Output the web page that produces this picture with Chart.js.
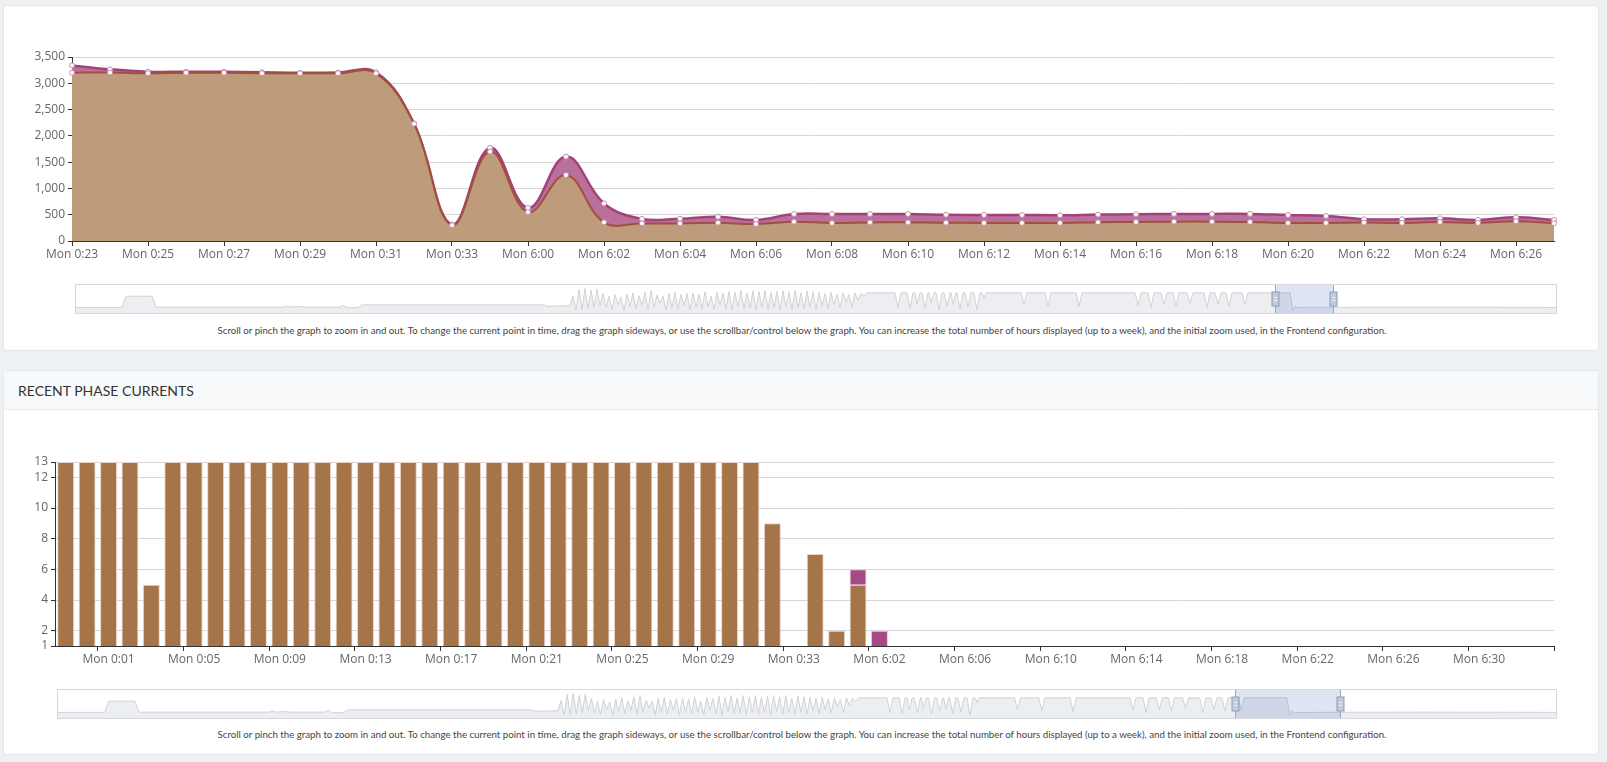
<!DOCTYPE html>
<html>
<head>
<meta charset="utf-8">
<script src="https://cdn.jsdelivr.net/npm/chart.js@4.4.0/dist/chart.umd.min.js"></script>
<style>
  html, body { margin: 0; padding: 0; width: 1607px; height: 762px; overflow: hidden; background: #eef1f3; font-family: Lato, sans-serif; }
  .card { position: absolute; left: 3px; width: 1596px; background: #fff; border: 1px solid #e2e6e9; border-radius: 4px; box-sizing: border-box; }
  .head { position: absolute; left: 4px; top: 371px; width: 1594px; height: 39px; background: #f8f9fa; border-bottom: 1px solid #e7eaec; box-sizing: border-box;
          font: 14px Lato, sans-serif; color: #333; line-height: 39px; padding-left: 14px; }
  canvas { position: absolute; }
  .nav { position: absolute; border: 1px solid #d5d9de; box-sizing: border-box; }
  .nav canvas { left: 0; top: 0; }
  .note { position: absolute; left: 3px; width: 1598px; text-align: center; font: 9.7px Lato, sans-serif; color: #444; line-height: 12px; }
</style>
</head>
<body>
<div class="card" style="top:5px;height:346px"></div>
<div class="card" style="top:370px;height:385px"></div>
<div class="head">RECENT PHASE CURRENTS</div>

<canvas id="powerChart" width="1570" height="225" style="left:0;top:45px"></canvas>
<div class="nav" style="left:75px;top:284px;width:1482px;height:30px"><canvas id="powerNav" width="1480" height="28"></canvas></div>
<div class="note" style="top:324px">Scroll or pinch the graph to zoom in and out. To change the current point in time, drag the graph sideways, or use the scrollbar/control below the graph. You can increase the total number of hours displayed (up to a week), and the initial zoom used, in the Frontend configuration.</div>

<canvas id="phaseChart" width="1570" height="230" style="left:0;top:440px"></canvas>
<div class="nav" style="left:57px;top:689px;width:1500px;height:30px"><canvas id="phaseNav" width="1498" height="28"></canvas></div>
<div class="note" style="top:728px">Scroll or pinch the graph to zoom in and out. To change the current point in time, drag the graph sideways, or use the scrollbar/control below the graph. You can increase the total number of hours displayed (up to a week), and the initial zoom used, in the Frontend configuration.</div>

<script>
// power graph (W), one point per minute, gap between 0:34 and 6:00 left out
const powerTimes = [
  'Mon 0:23', 'Mon 0:24', 'Mon 0:25', 'Mon 0:26', 'Mon 0:27', 'Mon 0:28', 'Mon 0:29', 'Mon 0:30',
  'Mon 0:31', 'Mon 0:32', 'Mon 0:33', 'Mon 0:34',
  'Mon 6:00', 'Mon 6:01', 'Mon 6:02', 'Mon 6:03', 'Mon 6:04', 'Mon 6:05', 'Mon 6:06', 'Mon 6:07',
  'Mon 6:08', 'Mon 6:09', 'Mon 6:10', 'Mon 6:11', 'Mon 6:12', 'Mon 6:13', 'Mon 6:14', 'Mon 6:15',
  'Mon 6:16', 'Mon 6:17', 'Mon 6:18', 'Mon 6:19', 'Mon 6:20', 'Mon 6:21', 'Mon 6:22', 'Mon 6:23',
  'Mon 6:24', 'Mon 6:25', 'Mon 6:26', 'Mon 6:27'
];
const powerTotal = [
  3340, 3265, 3220, 3220, 3220, 3210, 3200, 3205, 3210, 2235, 315, 1770,
  630, 1605, 715, 420, 425, 460, 400, 513, 513, 513, 513, 500, 495, 495,
  490, 502, 508, 515, 515, 515, 495, 476, 413, 413, 432, 400, 451, 400
];
const powerGrid = [
  3200, 3205, 3190, 3200, 3200, 3190, 3190, 3190, 3190, 2230, 300, 1700,
  550, 1255, 355, 335, 335, 348, 323, 367, 342, 354, 354, 348, 343, 343,
  343, 356, 362, 368, 368, 362, 343, 343, 350, 343, 362, 343, 375, 337
];

// phase currents (A)
const phaseTimes = [
  'Sun 23:59', 'Mon 0:00', 'Mon 0:01', 'Mon 0:02', 'Mon 0:03', 'Mon 0:04', 'Mon 0:05', 'Mon 0:06',
  'Mon 0:07', 'Mon 0:08', 'Mon 0:09', 'Mon 0:10', 'Mon 0:11', 'Mon 0:12', 'Mon 0:13', 'Mon 0:14',
  'Mon 0:15', 'Mon 0:16', 'Mon 0:17', 'Mon 0:18', 'Mon 0:19', 'Mon 0:20', 'Mon 0:21', 'Mon 0:22',
  'Mon 0:23', 'Mon 0:24', 'Mon 0:25', 'Mon 0:26', 'Mon 0:27', 'Mon 0:28', 'Mon 0:29', 'Mon 0:30',
  'Mon 0:31', 'Mon 0:32', 'Mon 0:33', 'Mon 0:34',
  'Mon 6:00', 'Mon 6:01', 'Mon 6:02', 'Mon 6:03', 'Mon 6:04', 'Mon 6:05', 'Mon 6:06', 'Mon 6:07',
  'Mon 6:08', 'Mon 6:09', 'Mon 6:10', 'Mon 6:11', 'Mon 6:12', 'Mon 6:13', 'Mon 6:14', 'Mon 6:15',
  'Mon 6:16', 'Mon 6:17', 'Mon 6:18', 'Mon 6:19', 'Mon 6:20', 'Mon 6:21', 'Mon 6:22', 'Mon 6:23',
  'Mon 6:24', 'Mon 6:25', 'Mon 6:26', 'Mon 6:27', 'Mon 6:28', 'Mon 6:29', 'Mon 6:30', 'Mon 6:31',
  'Mon 6:32', 'Mon 6:33'
];
const phaseL1 = [
  13, 13, 13, 13, 5, 13, 13, 13, 13, 13, 13, 13, 13, 13, 13, 13, 13, 13,
  13, 13, 13, 13, 13, 13, 13, 13, 13, 13, 13, 13, 13, 13, 13, 9, null, 7,
  2, 5, null, null, null, null, null, null, null, null, null, null, null, null, null, null,
  null, null, null, null, null, null, null, null, null, null, null, null, null, null, null, null,
  null, null
];
const phaseL2 = [
  null, null, null, null, null, null, null, null, null, null, null, null, null, null, null, null, null, null,
  null, null, null, null, null, null, null, null, null, null, null, null, null, null, null, null, null, null,
  null, 1, 2, null, null, null, null, null, null, null, null, null, null, null, null, null,
  null, null, null, null, null, null, null, null, null, null, null, null, null, null, null, null,
  null, null
];
const phaseTicks = [1, 2, 4, 6, 8, 10, 12, 13];

// navigator overview: [minute, % of navigator height]
const navPoints = [
  [0, 20], [46, 20], [50, 60], [76, 60], [80, 21], [209, 21], [212, 25], [215, 21], [226, 23], [229, 21],
  [264, 21], [267, 28], [271, 19], [282, 19], [286, 29], [468, 29], [471, 24], [494, 26],
  [497, 62], [500, 10], [503, 85], [506, 12], [509, 88], [512, 15], [515, 82], [518, 20], [521, 86], [524, 25],
  [527, 70], [530, 18], [533, 60], [536, 12], [539, 66], [542, 30], [545, 58], [548, 10], [551, 68], [554, 22],
  [557, 72], [560, 15], [563, 62], [566, 28], [569, 75], [572, 12], [575, 80], [578, 20], [581, 64], [584, 35],
  [587, 60], [590, 10], [593, 70], [596, 18], [599, 74], [602, 14], [605, 66], [608, 26], [611, 70], [614, 10],
  [617, 72], [620, 20], [623, 68], [626, 15], [629, 76], [632, 22], [635, 60], [638, 12], [641, 74], [644, 28],
  [647, 70], [650, 14], [653, 78], [656, 10], [659, 74], [662, 22], [665, 80], [668, 15], [671, 72], [674, 18],
  [677, 80], [680, 12], [683, 76], [686, 20], [689, 80], [692, 14], [695, 74], [698, 18], [701, 78], [704, 10],
  [707, 80], [710, 22], [713, 76], [716, 12], [719, 80], [722, 18], [725, 72], [728, 14], [731, 78], [734, 20],
  [737, 76], [740, 12], [743, 74], [746, 25], [749, 70], [752, 15], [755, 74], [758, 30], [761, 68], [764, 18],
  [767, 72], [770, 40], [773, 66], [776, 20], [779, 72], [782, 45], [785, 70], [788, 60], [791, 72],
  [819, 72], [822, 20], [825, 72], [831, 72], [834, 15], [837, 72], [839, 72], [841, 30], [844, 72],
  [846, 72], [849, 18], [852, 72], [853, 72], [855, 35], [858, 72], [860, 72], [863, 12], [866, 72],
  [868, 72], [871, 25], [874, 72], [875, 72], [877, 30], [880, 72], [881, 72], [884, 15], [887, 72],
  [889, 72], [892, 22], [895, 72], [898, 72], [901, 10], [904, 72], [906, 72], [908, 55], [910, 72],
  [945, 72], [948, 30], [951, 72], [969, 72], [972, 25], [975, 72], [1000, 72], [1003, 22], [1006, 72],
  [1059, 72], [1062, 28], [1065, 72], [1072, 72], [1075, 20], [1078, 72], [1085, 72], [1088, 30], [1091, 72],
  [1097, 72], [1100, 25], [1103, 72], [1111, 72], [1114, 35], [1117, 72], [1128, 72], [1131, 20], [1134, 72],
  [1139, 72], [1142, 30], [1145, 72], [1150, 72], [1153, 25], [1156, 72], [1166, 72], [1169, 30], [1172, 72],
  [1214, 72], [1217, 10], [1219, 24], [1222, 18], [1226, 20], [1350, 21], [1480, 20]
];
const powerNavWindow = [1199, 1257];
const phaseNavWindow = [1163, 1267];

Chart.defaults.font.family = '"Open Sans", sans-serif';
Chart.defaults.font.size = 12;
Chart.defaults.color = '#666';
Chart.defaults.animation = false;
Chart.defaults.plugins.legend.display = false;
Chart.defaults.plugins.tooltip.enabled = false;

const axisColor = '#333';
const gridColor = '#d6d6d6';

new Chart(document.getElementById('powerChart'), {
  type: 'line',
  data: {
    labels: powerTimes,
    datasets: [{
      data: powerGrid,
      order: 1,
      fill: 'origin',
      backgroundColor: '#bd9b7b',
      borderColor: '#a0503c',
      borderWidth: 2,
      tension: 0.4,
      pointRadius: 2.5,
      pointBackgroundColor: '#fff',
      pointBorderColor: '#c58fae',
      pointBorderWidth: 1
    }, {
      data: powerTotal,
      order: 2,
      fill: 'origin',
      backgroundColor: '#b9719c',
      borderColor: '#a4417b',
      borderWidth: 2.5,
      tension: 0.4,
      pointRadius: 2.5,
      pointBackgroundColor: '#fff',
      pointBorderColor: '#c58fae',
      pointBorderWidth: 1
    }]
  },
  options: {
    responsive: false,
    layout: { padding: { top: 12, right: 16, left: 0, bottom: 0 }, autoPadding: false },
    scales: {
      x: {
        border: { color: axisColor },
        grid: { drawOnChartArea: false, tickLength: 5, tickColor: ctx => ctx.index % 2 === 0 ? axisColor : 'rgba(0,0,0,0)' },
        ticks: { autoSkip: false, maxRotation: 0, padding: 1, callback: (v, i) => i % 2 === 0 ? powerTimes[i] : '' },
        afterFit: s => { s.height = 29; }
      },
      y: {
        min: 0,
        max: 3500,
        border: { color: axisColor },
        grid: { color: gridColor, tickColor: axisColor, tickLength: 4 },
        ticks: { stepSize: 500, padding: 3 },
        afterFit: s => { s.width = 72; }
      }
    }
  }
});

new Chart(document.getElementById('phaseChart'), {
  type: 'bar',
  data: {
    labels: phaseTimes,
    datasets: [{
      data: phaseL1,
      backgroundColor: '#a57549',
      borderColor: '#e8d3c6',
      borderWidth: 1,
      barPercentage: 0.79,
      categoryPercentage: 1
    }, {
      data: phaseL2,
      backgroundColor: '#a64a86',
      borderColor: '#e3c6d8',
      borderWidth: 1,
      barPercentage: 0.79,
      categoryPercentage: 1
    }]
  },
  options: {
    responsive: false,
    layout: { padding: { top: 22, right: 16, left: 0, bottom: 0 }, autoPadding: false },
    scales: {
      x: {
        stacked: true,
        offset: true,
        border: { color: axisColor },
        grid: {
          offset: true, drawOnChartArea: false, tickLength: 5,
          tickColor: ctx => (ctx.index === undefined || ctx.index % 4 === 2) ? axisColor : 'rgba(0,0,0,0)'
        },
        ticks: { autoSkip: false, maxRotation: 0, padding: 1, callback: (v, i) => i % 4 === 2 ? phaseTimes[i] : '' },
        afterFit: s => { s.height = 24; }
      },
      y: {
        stacked: true,
        min: 1,
        max: 13,
        border: { color: axisColor },
        grid: { color: gridColor, tickColor: axisColor, tickLength: 4 },
        ticks: { padding: 3 },
        afterBuildTicks: s => { s.ticks = phaseTicks.map(v => ({ value: v })); },
        afterFit: s => { s.width = 55; }
      }
    }
  }
});

// selection window drawn over the navigator
const navWindow = {
  id: 'navWindow',
  afterDatasetsDraw(chart, args, opts) {
    const { ctx, chartArea: a, scales: { x } } = chart;
    const x1 = Math.round(x.getPixelForValue(opts.range[0])) + 0.5;
    const x2 = Math.round(x.getPixelForValue(opts.range[1])) + 0.5;
    ctx.save();
    ctx.fillStyle = 'rgba(102,133,194,0.22)';
    ctx.fillRect(x1, a.top, x2 - x1, a.bottom - a.top);
    ctx.strokeStyle = '#98a7c2';
    ctx.lineWidth = 1;
    [x1, x2].forEach(px => {
      ctx.beginPath();
      ctx.moveTo(px, a.top);
      ctx.lineTo(px, a.bottom);
      ctx.stroke();
      const hy = Math.round((a.top + a.bottom) / 2) - 7;
      ctx.fillStyle = '#c2cbd9';
      ctx.fillRect(px - 3.5, hy, 7, 14);
      ctx.strokeStyle = '#8e9dba';
      ctx.strokeRect(px - 3.5, hy, 7, 14);
      ctx.strokeStyle = '#eef1f6';
      ctx.beginPath();
      ctx.moveTo(px - 1.5, hy + 5.5); ctx.lineTo(px + 1.5, hy + 5.5);
      ctx.moveTo(px - 1.5, hy + 8.5); ctx.lineTo(px + 1.5, hy + 8.5);
      ctx.stroke();
      ctx.strokeStyle = '#98a7c2';
    });
    ctx.restore();
  }
};

function makeNav(id, range) {
  new Chart(document.getElementById(id), {
    type: 'line',
    data: {
      datasets: [{
        data: navPoints.map(p => ({ x: p[0], y: p[1] })),
        fill: 'origin',
        backgroundColor: '#eceef1',
        borderColor: '#cfd2d6',
        borderWidth: 1,
        pointRadius: 0,
        tension: 0
      }]
    },
    options: {
      responsive: false,
      events: [],
      layout: { padding: 0, autoPadding: false },
      scales: {
        x: { type: 'linear', display: false, min: 0, max: 1480 },
        y: { display: false, min: 0, max: 100 }
      },
      plugins: { navWindow: { range: range } }
    },
    plugins: [navWindow]
  });
}
makeNav('powerNav', powerNavWindow);
makeNav('phaseNav', phaseNavWindow);
</script>
</body>
</html>
